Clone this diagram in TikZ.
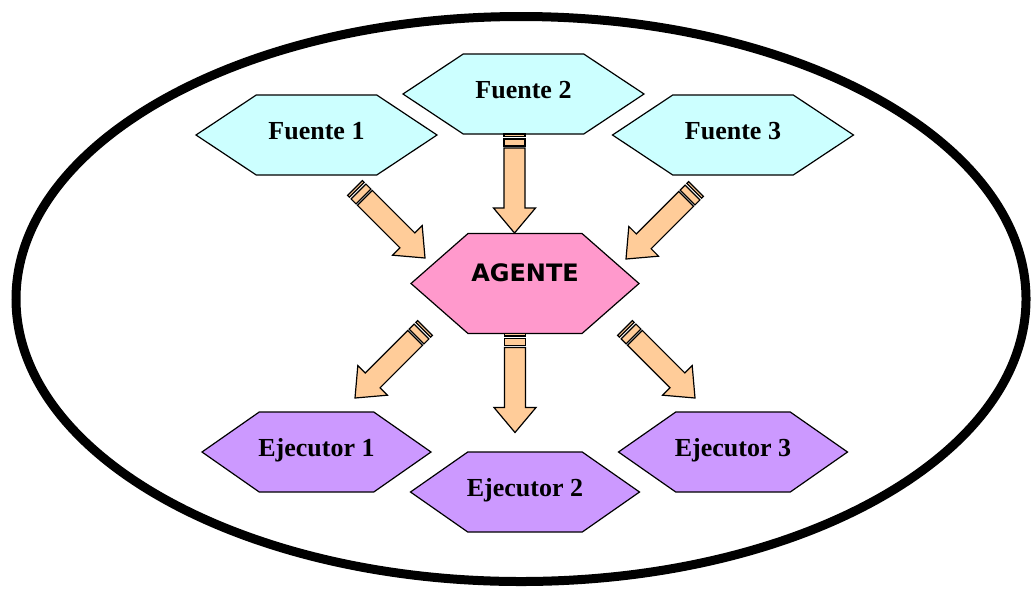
\documentclass[tikz,border=0pt]{standalone}
\usepackage{fontspec}
\setmainfont{Liberation Serif}
\newfontfamily\agentefont{DejaVu Sans}
\definecolor{celeste}{HTML}{CCFFFF}
\definecolor{rosa}{HTML}{FF99CC}
\definecolor{lila}{HTML}{CC99FF}
\definecolor{durazno}{HTML}{FFCC99}
\tikzset{
  hexa/.style={draw, line width=0.6pt, line join=miter},
  fuente/.style={hexa, fill=celeste},
  agente/.style={hexa, fill=rosa},
  ejecutor/.style={hexa, fill=lila},
  caja/.style={draw=none, inner sep=0pt, outer sep=0pt},
  texto/.style={font=\fontsize{13}{15}\bfseries, text height=8.6pt, text depth=0pt, yshift=2pt},
  fuente txt/.style={texto},
  ejecutor txt/.style={texto},
  agente txt/.style={font=\fontsize{12}{14}\agentefont\bfseries, text height=8.7pt, text depth=0pt, yshift=5.2pt},
  tira/.style={draw, fill=durazno, line width=0.6pt, line join=miter},
  flecha/.pic={
    \draw[tira] (0,-10.5) rectangle (2.5,10.5);
    \draw[tira] (5,-10.5) rectangle (12,10.5);
    \draw[tira] (14,-10.5) -- (74,-10.5) -- (74,-21) -- (99,0) -- (74,21) -- (74,10.5) -- (14,10.5) -- cycle;
  }
}
\begin{document}
\begin{tikzpicture}[x=0.5pt,y=-0.5pt]
  \useasboundingbox (0,0) rectangle (1031,590);
  \draw[line width=4.5pt] (521,299) ellipse (505 and 282.5);

  % hexagonos: nombre/x/y/semiancho/semialto/estilo/texto
  \foreach \n/\cx/\cy/\hw/\hh/\s/\t in {
      f1/316.5/135/120.5/40/fuente/Fuente 1,
      f2/523.5/94/120.5/40/fuente/Fuente 2,
      f3/733/135/120.5/40/fuente/Fuente 3,
      ag/525/283.5/114/50/agente/AGENTE,
      e1/316.5/452/114.5/40/ejecutor/Ejecutor 1,
      e2/525/492/114.5/40/ejecutor/Ejecutor 2,
      e3/733/452/114.5/40/ejecutor/Ejecutor 3}
  {
    \draw[\s] (\cx-\hw,\cy) -- ++(\hw/2,-\hh) -- ++(\hw,0) -- ++(\hw/2,\hh)
      -- ++(-\hw/2,\hh) -- ++(-\hw,0) -- cycle;
    \node[caja, minimum width=\hw*1pt, minimum height=\hh*1pt,
      label={[\s\space txt]center:\t}] (\n) at (\cx,\cy) {};
  }

  % flechas
  \pic[rotate=-90] at ([xshift=-4.5pt]f2.south) {flecha};
  \pic[rotate=-90] at ([xshift=-5pt]ag.south) {flecha};
  \coordinate (t1) at (355,188);
  \coordinate (t3) at (696,189);
  \coordinate (s1) at (425,328);
  \coordinate (s3) at (625,328);
  \pic[rotate=-45] at (t1) {flecha};
  \pic[rotate=-135] at (t3) {flecha};
  \pic[rotate=-135] at (s1) {flecha};
  \pic[rotate=-45] at (s3) {flecha};
\end{tikzpicture}
\end{document}
